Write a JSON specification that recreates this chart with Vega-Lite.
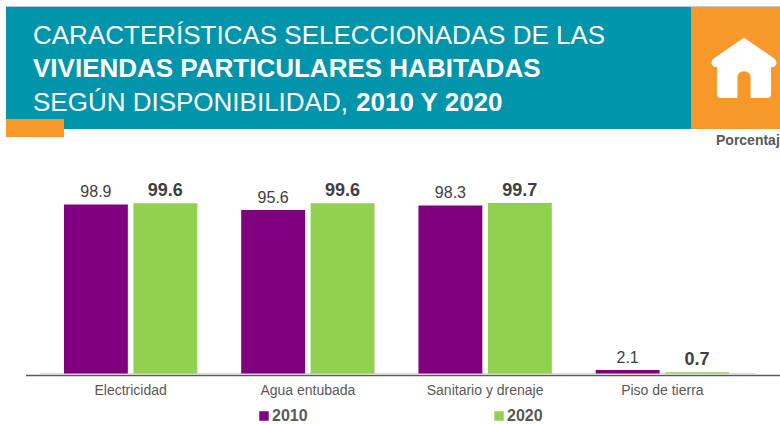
{
"$schema":"https://vega.github.io/schema/vega-lite/v6.json",
"width":780,"height":424,"padding":0,"autosize":{"type":"none"},
"background":"white",
"config":{"view":{"stroke":null},"font":"Liberation Sans"},
"datasets":{"bars":[
{"categoria":"Electricidad","anio":"2010","pct":98.9},
{"categoria":"Electricidad","anio":"2020","pct":99.6},
{"categoria":"Agua entubada","anio":"2010","pct":95.6},
{"categoria":"Agua entubada","anio":"2020","pct":99.6},
{"categoria":"Sanitario y drenaje","anio":"2010","pct":98.3},
{"categoria":"Sanitario y drenaje","anio":"2020","pct":99.7},
{"categoria":"Piso de tierra","anio":"2010","pct":2.1},
{"categoria":"Piso de tierra","anio":"2020","pct":0.7}
]},
"layer":[
{"data":{"values":[{}]},"mark":{"type":"rect","color":"#C8C8C8"},"encoding":{"x":{"value":6},"x2":{"value":780},"y":{"value":6},"y2":{"value":8}}},
{"data":{"values":[{}]},"mark":{"type":"rect","color":"#0095AB"},"encoding":{"x":{"value":6},"x2":{"value":691},"y":{"value":7},"y2":{"value":129}}},
{"data":{"values":[{}]},"mark":{"type":"rect","color":"#F7982A"},"encoding":{"x":{"value":691},"x2":{"value":780},"y":{"value":7},"y2":{"value":129}}},
{"data":{"values":[{}]},"mark":{"type":"rect","color":"#F7982A"},"encoding":{"x":{"value":6},"x2":{"value":64},"y":{"value":119},"y2":{"value":137}}},
{"data":{"values":[{}]},"mark":{"type":"point","filled":true,"opacity":1,"color":"white","strokeWidth":0,"size":4356,
"shape":"M-0.06,-0.88 Q0,-0.93 0.06,-0.88 L0.94,-0.27 Q1.05,-0.1 0.9,-0.03 L0.82,-0.03 L0.82,0.79 Q0.82,0.91 0.7,0.91 L0.2,0.91 L0.2,0.3 Q0.2,0.1 0,0.1 Q-0.2,0.1 -0.2,0.3 L-0.2,0.91 L-0.7,0.91 Q-0.82,0.91 -0.82,0.79 L-0.82,-0.03 L-0.9,-0.03 Q-1.05,-0.1 -0.94,-0.27 Z"},
"encoding":{"x":{"value":744},"y":{"value":68}}},
{"data":{"values":[{"t":"CARACTERÍSTICAS SELECCIONADAS DE LAS"}]},"mark":{"type":"text","align":"left","baseline":"alphabetic","color":"white","fontSize":26,"x":33,"y":44},"encoding":{"text":{"field":"t"}}},
{"data":{"values":[{"t":"VIVIENDAS PARTICULARES HABITADAS"}]},"mark":{"type":"text","align":"left","baseline":"alphabetic","color":"white","fontSize":26,"fontWeight":"bold","x":33,"y":77},"encoding":{"text":{"field":"t"}}},
{"data":{"values":[{"t":"SEGÚN DISPONIBILIDAD,"}]},"mark":{"type":"text","align":"left","baseline":"alphabetic","color":"white","fontSize":26,"x":33,"y":111},"encoding":{"text":{"field":"t"}}},
{"data":{"values":[{"t":"2010 Y 2020"}]},"mark":{"type":"text","align":"left","baseline":"alphabetic","color":"white","fontSize":26,"fontWeight":"bold","x":356,"y":111},"encoding":{"text":{"field":"t"}}},
{"data":{"values":[{"t":"Porcentaje"}]},"mark":{"type":"text","align":"left","baseline":"alphabetic","color":"#595959","fontSize":14,"fontWeight":"bold","x":716,"y":145},"encoding":{"text":{"field":"t"}}},
{"data":{"values":[{}]},"mark":{"type":"rule","color":"#D9D9D9","strokeWidth":1},"encoding":{"x":{"value":40},"x2":{"value":755},"y":{"value":373.5}}},
{"data":{"values":[{}]},"mark":{"type":"rule","color":"#595959","strokeWidth":1.5},"encoding":{"x":{"value":26},"x2":{"value":780},"y":{"value":375.5}}},
{"data":{"name":"bars"},"mark":{"type":"bar"},
"encoding":{
"x":{"field":"categoria","type":"nominal","sort":["Electricidad","Agua entubada","Sanitario y drenaje","Piso de tierra"],
"scale":{"range":[42,751],"paddingInner":0,"paddingOuter":0},
"axis":{"title":null,"orient":"bottom","offset":-49,"domain":false,"ticks":false,"labelAngle":0,"labelPadding":8,"labelFontSize":14,"labelColor":"#595959","labelFont":"Liberation Sans","grid":false}},
"xOffset":{"field":"anio","type":"nominal","scale":{"domain":["2010","2020"],"paddingInner":0.08,"paddingOuter":0.316}},
"y":{"field":"pct","type":"quantitative","scale":{"domain":[0,100],"range":[373.5,202.5]},"axis":null},
"color":{"field":"anio","type":"nominal","scale":{"domain":["2010","2020"],"range":["#800080","#92D050"]},
"legend":{"title":null,"orient":"none","legendX":256,"legendY":408,"direction":"horizontal","columns":2,"columnPadding":183,"symbolType":"square","symbolSize":90,"symbolStrokeWidth":0,"symbolOpacity":1,"labelFontSize":16,"labelFontWeight":"bold","labelColor":"#595959","labelOffset":0,"labelFont":"Liberation Sans"}}
}},
{"data":{"name":"bars"},"transform":[{"filter":"datum.anio === '2010'"}],"mark":{"type":"text","baseline":"alphabetic","dy":-7,"fontSize":16,"color":"#404040"},
"encoding":{"x":{"field":"categoria","type":"nominal","sort":["Electricidad","Agua entubada","Sanitario y drenaje","Piso de tierra"]},
"xOffset":{"field":"anio","type":"nominal"},
"y":{"field":"pct","type":"quantitative"},
"text":{"field":"pct","type":"quantitative","format":".1f"}}},
{"data":{"name":"bars"},"transform":[{"filter":"datum.anio === '2020'"}],"mark":{"type":"text","baseline":"alphabetic","dy":-7,"fontSize":18,"fontWeight":"bold","color":"#404040"},
"encoding":{"x":{"field":"categoria","type":"nominal","sort":["Electricidad","Agua entubada","Sanitario y drenaje","Piso de tierra"]},
"xOffset":{"field":"anio","type":"nominal"},
"y":{"field":"pct","type":"quantitative"},
"text":{"field":"pct","type":"quantitative","format":".1f"}}}
]
}
